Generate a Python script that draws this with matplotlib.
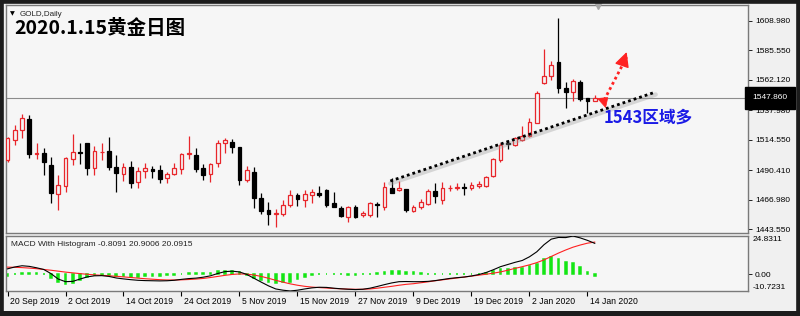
import matplotlib
matplotlib.use('Agg')
import matplotlib.pyplot as plt
import matplotlib.transforms as mtransforms
from matplotlib.patches import Rectangle, Polygon
import numpy as np
import pandas as pd

# ---------------- data ----------------
dates = [d for d in pd.bdate_range('2019-09-20', '2020-01-15')
         if d.strftime('%m-%d') not in ('12-25', '01-01')]

opens = [1498.4, 1514.3, 1522.3, 1531.0, 1503.5, 1504.0, 1494.4, 1471.4, 1477.7, 1499.2,
         1504.4, 1511.9, 1492.1, 1504.5, 1505.6, 1492.9, 1487.3, 1492.9, 1480.9, 1489.7,
         1491.3, 1490.5, 1484.1, 1487.3, 1491.3, 1503.2, 1502.4, 1492.1, 1487.3, 1496.0,
         1511.9, 1513.1, 1508.8, 1482.5, 1488.9, 1468.2, 1458.7, 1455.5, 1455.5, 1462.6,
         1470.6, 1466.6, 1470.6, 1472.2, 1474.6, 1464.2, 1460.2, 1453.1, 1461.0, 1454.7,
         1454.7, 1463.8, 1461.0, 1476.2, 1474.6, 1475.4, 1457.9, 1461.0, 1463.4, 1473.8,
         1466.6, 1475.8, 1476.2, 1477.0, 1476.5, 1477.7, 1477.7, 1485.7, 1498.4, 1511.9,
         1510.4, 1514.3, 1517.5, 1527.9, 1559.7, 1565.2, 1576.4, 1555.7, 1552.5, 1560.5,
         1547.8, 1545.3]
highs = [1517.0, 1526.3, 1535.0, 1534.2, 1511.9, 1508.0, 1500.8, 1486.5, 1500.8, 1519.1,
         1511.9, 1512.0, 1509.6, 1511.9, 1516.7, 1502.4, 1496.0, 1497.6, 1492.9, 1496.0,
         1493.7, 1494.4, 1488.9, 1496.0, 1504.0, 1517.5, 1508.0, 1495.2, 1496.0, 1514.3,
         1515.9, 1515.1, 1509.0, 1493.7, 1492.9, 1472.2, 1465.0, 1459.5, 1466.6, 1474.6,
         1472.2, 1474.6, 1475.4, 1477.7, 1475.4, 1473.0, 1461.8, 1461.8, 1462.6, 1457.9,
         1465.0, 1465.0, 1480.9, 1484.1, 1481.7, 1475.5, 1462.6, 1467.4, 1475.4, 1480.1,
         1480.9, 1478.5, 1480.1, 1480.1, 1480.9, 1481.7, 1485.7, 1500.0, 1511.9, 1514.3,
         1516.7, 1525.5, 1531.8, 1553.3, 1586.7, 1577.2, 1611.4, 1560.5, 1562.8, 1562.0,
         1548.0, 1550.0]
lows = [1497.0, 1510.4, 1515.9, 1500.0, 1499.2, 1486.5, 1464.2, 1458.7, 1473.0, 1494.4,
        1495.2, 1486.5, 1486.5, 1498.4, 1490.5, 1473.0, 1481.7, 1476.2, 1476.2, 1484.1,
        1484.1, 1480.1, 1480.1, 1486.5, 1487.3, 1499.2, 1488.9, 1482.5, 1480.9, 1492.9,
        1504.0, 1504.0, 1478.5, 1480.9, 1460.2, 1455.5, 1446.7, 1445.1, 1453.9, 1461.0,
        1461.8, 1461.0, 1464.2, 1469.0, 1461.0, 1460.8, 1453.1, 1449.1, 1452.3, 1453.1,
        1453.1, 1453.1, 1458.7, 1472.0, 1473.8, 1457.1, 1457.1, 1459.5, 1462.6, 1464.2,
        1463.4, 1473.8, 1474.6, 1470.6, 1474.6, 1476.2, 1476.9, 1484.9, 1496.8, 1507.2,
        1509.6, 1513.5, 1516.7, 1527.5, 1558.9, 1562.0, 1551.7, 1539.8, 1545.3, 1545.3,
        1535.8, 1545.0]
closes = [1515.9, 1522.3, 1531.8, 1503.2, 1504.2, 1496.8, 1472.2, 1478.5, 1500.0, 1504.8,
          1504.0, 1492.1, 1505.6, 1505.0, 1492.9, 1488.1, 1492.9, 1480.1, 1489.7, 1492.1,
          1489.7, 1483.3, 1487.3, 1492.1, 1503.2, 1504.0, 1491.3, 1486.5, 1495.2, 1511.9,
          1514.3, 1508.8, 1482.5, 1490.5, 1468.2, 1457.9, 1455.5, 1456.3, 1462.6, 1470.6,
          1467.4, 1471.4, 1473.0, 1470.6, 1462.6, 1461.0, 1453.9, 1461.0, 1453.1, 1456.3,
          1464.2, 1463.0, 1476.9, 1472.2, 1476.2, 1458.7, 1461.0, 1465.0, 1473.8, 1469.8,
          1476.2, 1476.2, 1476.9, 1476.5, 1478.5, 1479.3, 1484.9, 1499.2, 1510.4, 1510.8,
          1515.9, 1517.5, 1528.6, 1551.7, 1565.2, 1574.0, 1555.7, 1552.5, 1561.3, 1547.0,
          1545.3, 1547.86]

macd = [3.6, 4.8, 5.6, 5.2, 4.3, 3.2, 0.5, -3.0, -4.7, -4.5,
        -3.0, -1.6, -0.9, -0.8, -1.3, -2.3, -2.9, -3.4, -3.8, -4.0,
        -4.1, -4.2, -4.1, -3.8, -3.2, -2.7, -2.4, -1.8, -0.9, 0.6,
        1.8, 2.1, 1.6, 0.0, -2.5, -5.0, -7.4, -9.4, -10.2, -10.7231,
        -10.2, -9.4, -8.7, -8.3, -8.4, -8.9, -9.3, -9.6, -9.8, -9.6,
        -8.9, -7.8, -6.6, -5.5, -4.7, -4.6, -4.7, -4.7, -4.5, -4.0,
        -3.3, -2.6, -2.1, -1.7, -1.0, -0.1, 1.2, 3.0, 5.0, 6.4,
        7.8, 9.0, 11.4, 14.6, 19.2, 22.8, 23.9, 23.8, 24.8311, 23.6,
        22.0, 20.0915]
signal = [4.7, 4.6, 4.4, 4.1, 3.7, 3.2, 2.7, 2.1, 1.5, 1.0,
          0.5, 0.1, -0.3, -0.6, -0.9, -1.2, -1.6, -2.0, -2.4, -2.8,
          -3.1, -3.4, -3.6, -3.6, -3.5, -3.3, -3.0, -2.6, -2.0, -1.3,
          -0.6, 0.0, 0.3, 0.2, -0.4, -1.3, -2.5, -3.8, -5.0, -6.1,
          -7.0, -7.7, -8.2, -8.5, -8.8, -9.1, -9.3, -9.5, -9.6, -9.6,
          -9.4, -8.9, -8.3, -7.7, -7.0, -6.4, -6.0, -5.4, -4.8, -4.1,
          -3.5, -2.9, -2.3, -1.7, -1.1, -0.5, 0.1, 0.8, 1.6, 2.7,
          3.9, 5.0, 6.2, 7.6, 9.4, 11.6, 13.8, 15.8, 17.6, 19.0,
          20.2, 20.9006]
hist = [-1.1, 0.2, 1.2, 1.1, 0.6, 0.0, -2.2, -5.1, -6.2, -5.5,
        -3.5, -1.7, -0.6, -0.2, -0.4, -1.1, -1.3, -1.4, -1.4, -1.2,
        -1.0, -0.8, -0.5, -0.2, 0.3, 0.6, 0.6, 0.8, 1.1, 1.9,
        2.4, 2.1, 1.3, -0.2, -2.1, -3.7, -4.9, -5.6, -5.2, -4.6,
        -3.2, -1.7, -0.5, 0.2, 0.4, 0.2, 0.0, -0.1, -0.2, 0.0,
        0.5, 1.1, 1.7, 2.2, 2.3, 1.8, 1.3, 0.7, 0.3, 0.1,
        0.2, 0.3, 0.2, 0.0, 0.1, 0.4, 1.1, 2.2, 3.4, 3.7,
        3.9, 4.0, 5.2, 7.0, 9.8, 11.2, 10.1, 8.0, 7.2, 4.6,
        1.8, -0.8091]

price_ticks = [1608.98, 1585.55, 1562.12, 1537.98, 1514.55, 1490.41, 1466.98, 1443.55]
last_price = 1547.86
macd_max, macd_min = 24.8311, -10.7231
date_tick_labels = ['20 Sep 2019', '2 Oct 2019', '14 Oct 2019', '24 Oct 2019', '5 Nov 2019',
                    '15 Nov 2019', '27 Nov 2019', '9 Dec 2019', '19 Dec 2019', '2 Jan 2020',
                    '14 Jan 2020']
title = '2020.1.15黄金日图'
symbol_label = 'GOLD,Daily'
macd_label = 'MACD With Histogram -0.8091 20.9006 20.0915'
note_text = '1543区域多'
note_price = 1543
trend_start = (52.8, 1481.7)
trend_end = (89.4, 1552.5)
arrow_start = (82.3, 1546.1)
arrow_end = (85.4, 1584.3)

# ---------------- figure ----------------
W, H = 800, 316
fig = plt.figure(figsize=(W / 100, H / 100), dpi=100, facecolor='#f0f0f0')


def rect(l, t, r, b):
    return [l / W, 1 - b / H, (r - l) / W, (b - t) / H]


PLOT_BG = '#f6f6f6'
NUM_FONT = ['Liberation Sans', 'DejaVu Sans']
CJK_FONT = ['Noto Sans CJK SC', 'DejaVu Sans']

ax = fig.add_axes(rect(6, 5, 748, 233), facecolor=PLOT_BG)
axm = fig.add_axes(rect(6, 236, 748, 291), facecolor=PLOT_BG)

n = len(closes)
x = np.arange(n)
xlim = ((6 - 7.5) / 7.25, (748 - 7.5) / 7.25)

# ---- candles ----
BULL = '#e8262b'
BEAR = '#000000'
bw = 0.55
for i in range(n):
    o, h, l, c = opens[i], highs[i], lows[i], closes[i]
    col = BULL if c >= o else BEAR
    ax.vlines(x[i], l, h, color=col, lw=0.9, zorder=2)
    bottom = min(o, c)
    height = abs(c - o)
    face = PLOT_BG if c >= o else col
    ax.add_patch(Rectangle((x[i] - bw / 2, bottom), bw, height, facecolor=face,
                           edgecolor=col, lw=0.9, zorder=3))

ax.set_xlim(*xlim)
ymax = 1443.55 + (229 - 5) / 1.2574
ymin = 1443.55 + (229 - 233) / 1.2574
ax.set_ylim(ymin, ymax)

# last price line and label
ax.axhline(last_price, color='#8c8c8c', lw=0.8, zorder=1)
trans_lbl = mtransforms.blended_transform_factory(ax.transAxes, ax.transData)
ax.text(1.0055, last_price, f'{last_price:.3f}', transform=trans_lbl, ha='left', va='center',
        color='white', fontsize=6, family=NUM_FONT, clip_on=False, zorder=10,
        bbox=dict(facecolor='black', edgecolor='black', pad=0.9, boxstyle='square'))

# y axis ticks
ax.yaxis.tick_right()
ax.set_yticks(price_ticks)
ax.set_yticklabels([f'{v:.3f}' for v in price_ticks], fontsize=6, family=NUM_FONT)
ax.tick_params(axis='y', direction='out', length=3, width=0.6, pad=2, colors='black')
ax.set_xticks([])
for s in ax.spines.values():
    s.set_color('#7a7a7a')
    s.set_linewidth(1.0)

# shift marker at top
ax.plot([81.4], [ymax], marker='v', color='#a6a6a6', ms=6, clip_on=False, zorder=5)

# trend line with shadow
off = mtransforms.offset_copy(ax.transData, fig=fig, x=0, y=-2.5, units='dots')
ax.plot([trend_start[0], trend_end[0]], [trend_start[1], trend_end[1]], color='#9a9a9a',
        lw=3.2, alpha=0.35, transform=off, solid_capstyle='round', zorder=3)
ax.plot([trend_start[0], trend_end[0]], [trend_start[1], trend_end[1]], color='black',
        lw=2.0, linestyle=(0, (1, 1.1)), dash_capstyle='butt', zorder=4)

# red dotted arrow
RED = '#ff2222'
ax.plot([arrow_start[0], arrow_end[0]], [arrow_start[1], arrow_end[1] - 4], color=RED,
        lw=2.0, linestyle=(0, (1, 1.1)), dash_capstyle='butt', zorder=6)
ax.annotate('', xy=arrow_end, xytext=(arrow_end[0] - 0.12, arrow_end[1] - 2.0),
            arrowprops=dict(arrowstyle='-|>,head_length=0.9,head_width=0.45', color=RED,
                            lw=1.0, shrinkA=0, shrinkB=0), zorder=6)
ax.add_patch(Polygon([(81.4, 1547.3), (82.8, 1548.1), (82.5, 1540.2)], closed=True,
                     facecolor=RED, edgecolor=RED, lw=0.5, zorder=6))

# note text
ax.text(82.2, note_price - 10.5, note_text, fontsize=12, fontweight='bold', color='#1a1ae6',
        family=CJK_FONT, ha='left', va='center', zorder=7)

# ---- MACD panel ----
axm.bar(x, hist, width=0.22, color='#14e614', edgecolor='#14e614', linewidth=1.1, zorder=2)
axm.plot(x, signal, color='#ff2020', lw=0.8, zorder=3)
axm.plot(x, macd, color='black', lw=0.8, zorder=4)
axm.set_xlim(*xlim)
axm.set_ylim(macd_min, macd_max)
axm.yaxis.tick_right()
axm.set_yticks([0])
axm.set_yticklabels(['0.00'], fontsize=6, family=NUM_FONT)
axm.tick_params(axis='y', direction='out', length=3, width=0.6, pad=2)
trans_m = mtransforms.blended_transform_factory(axm.transAxes, axm.transData)
axm.text(1.006, macd_max, f'{macd_max:.4f}', transform=trans_m, ha='left', va='top',
         fontsize=6, family=NUM_FONT, clip_on=False)
axm.text(1.006, macd_min, f'{macd_min:.4f}', transform=trans_m, ha='left', va='bottom',
         fontsize=6, family=NUM_FONT, clip_on=False)
for s in axm.spines.values():
    s.set_color('#7a7a7a')
    s.set_linewidth(1.0)

# date ticks
fmt_dates = [f'{d.day} {d.strftime("%b %Y")}' for d in dates]
tick_pos = [i for i, s in enumerate(fmt_dates) if s in date_tick_labels]
axm.set_xticks(tick_pos)
axm.set_xticklabels([])
axm.tick_params(axis='x', direction='out', length=3.5, width=0.8, colors='black')
lbl_trans = mtransforms.offset_copy(
    mtransforms.blended_transform_factory(axm.transData, axm.transAxes),
    fig=fig, x=3, y=-6, units='dots')
for p in tick_pos:
    axm.text(p, 0, fmt_dates[p], transform=lbl_trans, ha='left', va='top', fontsize=6.2,
             family=NUM_FONT, clip_on=False)

# ---- labels ----
fig.text(10 / W, 1 - 14 / H, '▼', fontsize=4.5, ha='left', va='center', color='black')
fig.text(20 / W, 1 - 14 / H, symbol_label, fontsize=5.8, family=NUM_FONT, ha='left',
         va='center', color='#222222')
fig.text(14 / W, 1 - 29 / H, title, fontsize=14, fontweight='bold', family=CJK_FONT,
         ha='left', va='center', color='black')
fig.text(11 / W, 1 - 244 / H, macd_label, fontsize=6, family=NUM_FONT, ha='left',
         va='center', color='#222222')

# outer frame
fig.patches.append(Rectangle((0, 0), 1, 1, transform=fig.transFigure, fill=False,
                             edgecolor='#1c1c1c', linewidth=5.5, zorder=20))
fig.patches.append(Rectangle((0, 0), 1, 5 / H, transform=fig.transFigure, facecolor='#1c1c1c',
                             edgecolor='none', zorder=20))

fig.savefig('out.png', dpi=100, facecolor=fig.get_facecolor())
